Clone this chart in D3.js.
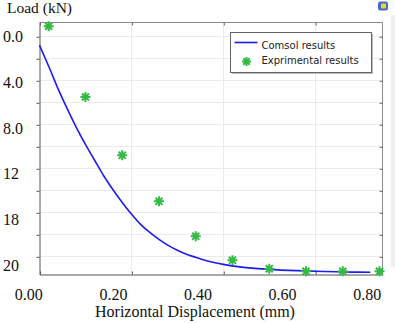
<!DOCTYPE html>
<html>
<head>
<meta charset="utf-8">
<script src="https://cdn.jsdelivr.net/npm/d3@7/dist/d3.min.js"></script>
<style>
  body { margin: 0; background: #fff; }
  svg { display: block; }
</style>
</head>
<body>
<svg id="chart"></svg>
<script>
// Comsol curve (displacement in mm, load in kN)
const comsolDisp = [0, 0.02, 0.04, 0.06, 0.08, 0.10, 0.12, 0.14, 0.16, 0.18, 0.20, 0.22, 0.24, 0.26, 0.28, 0.30, 0.32, 0.34, 0.36, 0.40, 0.44, 0.50, 0.56, 0.62, 0.68, 0.72];
const comsolLoad = [0.82, 2.73, 4.73, 6.55, 8.27, 9.82, 11.27, 12.7, 13.95, 15.1, 16.15, 17.09, 17.82, 18.45, 19.0, 19.45, 19.82, 20.09, 20.36, 20.73, 20.98, 21.18, 21.3, 21.38, 21.43, 21.45];

// Experimental points
const expDisp = [0.02, 0.10, 0.18, 0.26, 0.34, 0.42, 0.50, 0.58, 0.66, 0.74];
const expLoad = [-0.91, 5.52, 10.82, 15.0, 18.18, 20.36, 21.12, 21.36, 21.36, 21.36];

// Tick labels as printed on the figure
const xTickLabels = ["0.00", "0.20", "0.40", "0.60", "0.80"];
const yTickLabels = ["0.0", "4.0", "8.0", "12", "18", "20"];

const seriesNames = ["Comsol results", "Exprimental results"];

const width = 395;
const height = 323;
const plotLeft = 39.5, plotRight = 382.5, plotTop = 22.5, plotBottom = 274.5;

const lineColor = "#1c1cf5";
const starColor = "#33b944";

const svg = d3.select("#chart")
  .attr("width", width)
  .attr("height", height);

// Scales for the data
const x = d3.scaleLinear().domain([0, 0.7465]).range([plotLeft, plotRight]);
const y = d3.scaleLinear().domain([-1.25, 21.65]).range([plotTop, plotBottom]);

// Scales for the printed labels (they sit a bit off the grid in the figure)
const xLab = d3.scaleLinear().domain([0, 0.8]).range([28.3, 366.7]);
const yLab = d3.scaleLinear().domain([0, 20]).range([36.7, 265]);

const xGrid = [0, 0.2, 0.4, 0.6];
const yGrid = d3.range(0, 21, 2);

// grid lines
svg.append("g")
  .selectAll("line")
  .data(yGrid)
  .enter().append("line")
  .attr("x1", plotLeft).attr("x2", plotRight)
  .attr("y1", d => Math.round(y(d)) + 0.5)
  .attr("y2", d => Math.round(y(d)) + 0.5)
  .attr("stroke", "#ebebeb");

svg.append("g")
  .selectAll("line")
  .data(xGrid.slice(1))
  .enter().append("line")
  .attr("y1", plotTop).attr("y2", plotBottom)
  .attr("x1", d => Math.round(x(d)) + 0.5)
  .attr("x2", d => Math.round(x(d)) + 0.5)
  .attr("stroke", "#ebebeb");

// frame: top and right
svg.append("path")
  .attr("d", `M${plotLeft},${plotTop}H${plotRight}V${plotBottom}`)
  .attr("fill", "none")
  .attr("stroke", "#8a8a8a");

// left axis
svg.append("g")
  .attr("transform", `translate(${plotLeft},0)`)
  .call(d3.axisLeft(y).tickValues(yGrid).tickSize(3).tickSizeOuter(0).tickFormat(""))
  .call(g => g.selectAll("path,line").attr("stroke", "#555"))
  .call(g => g.selectAll(".tick line").attr("transform", "translate(0,0.5)"));

// right ticks (inward)
svg.append("g")
  .attr("transform", `translate(${plotRight},0)`)
  .call(d3.axisLeft(y).tickValues(yGrid).tickSize(3).tickSizeOuter(0).tickFormat(""))
  .call(g => g.select(".domain").remove())
  .call(g => g.selectAll(".tick line").attr("stroke", "#666").attr("transform", "translate(0,0.5)"));

// top ticks (inward)
svg.append("g")
  .attr("transform", `translate(0,${plotTop})`)
  .call(d3.axisBottom(x).tickValues(xGrid).tickSize(3).tickSizeOuter(0).tickFormat(""))
  .call(g => g.select(".domain").remove())
  .call(g => g.selectAll(".tick line").attr("stroke", "#666").attr("transform", "translate(0.5,0)"));

// bottom axis (ticks inward)
svg.append("g")
  .attr("transform", `translate(0,${plotBottom})`)
  .call(d3.axisTop(x).tickValues(xGrid).tickSize(3).tickSizeOuter(0).tickFormat(""))
  .call(g => g.selectAll("path,line").attr("stroke", "#555"))
  .call(g => g.selectAll(".tick line").attr("transform", "translate(0.5,0)"));

// printed tick labels
svg.append("g")
  .attr("transform", `translate(0,299.5)`)
  .call(d3.axisTop(xLab).tickValues([0, 0.2, 0.4, 0.6, 0.8]).tickSize(0).tickPadding(0)
    .tickFormat((d, i) => xTickLabels[i]))
  .call(g => g.select(".domain").remove())
  .call(g => g.selectAll("text")
    .attr("font-family", "'Liberation Serif', serif")
    .attr("font-size", 16)
    .attr("fill", "#111")
    .attr("dy", 0));

svg.append("g")
  .attr("transform", `translate(3,0)`)
  .call(d3.axisRight(yLab).tickValues([0, 4, 8, 12, 16, 20]).tickSize(0).tickPadding(0)
    .tickFormat((d, i) => yTickLabels[i]))
  .call(g => g.select(".domain").remove())
  .call(g => g.selectAll("text")
    .attr("font-family", "'Liberation Serif', serif")
    .attr("font-size", 16)
    .attr("fill", "#111"));

// axis titles
svg.append("text")
  .attr("x", 7).attr("y", 12.5)
  .attr("font-family", "'Liberation Serif', serif")
  .attr("font-size", 15.5)
  .attr("fill", "#111")
  .text("Load (kN)");

svg.append("text")
  .attr("x", 95).attr("y", 317)
  .attr("font-family", "'Liberation Serif', serif")
  .attr("font-size", 16)
  .attr("fill", "#111")
  .text("Horizontal Displacement (mm)");

// Comsol curve
const curveData = comsolDisp.map((d, i) => [d, comsolLoad[i]]);
svg.append("path")
  .datum(curveData)
  .attr("fill", "none")
  .attr("stroke", lineColor)
  .attr("stroke-width", 1.6)
  .attr("d", d3.line().x(d => x(d[0])).y(d => y(d[1])).curve(d3.curveMonotoneX));

// asterisk marker
const star = r => {
  const a = r * Math.SQRT1_2;
  return `M0,${-r}V${r}M${-r},0H${r}M${-a},${-a}L${a},${a}M${-a},${a}L${a},${-a}`;
};

svg.append("g")
  .selectAll("path")
  .data(expDisp.map((d, i) => [d, expLoad[i]]))
  .enter().append("path")
  .attr("transform", d => `translate(${x(d[0])},${y(d[1])})`)
  .attr("d", star(5))
  .attr("stroke", starColor)
  .attr("stroke-width", 2)
  .attr("fill", "none");

// legend
const lg = svg.append("g").attr("transform", "translate(230.5,32.5)");
lg.append("rect")
  .attr("x", 1.5).attr("y", 1.5).attr("width", 141).attr("height", 40)
  .attr("fill", "#bbb");
lg.append("rect")
  .attr("width", 141).attr("height", 40)
  .attr("fill", "#fff").attr("stroke", "#666");
lg.append("line")
  .attr("x1", 4).attr("x2", 27).attr("y1", 10).attr("y2", 10)
  .attr("stroke", lineColor).attr("stroke-width", 1.6);
lg.append("path")
  .attr("transform", "translate(16,29)")
  .attr("d", star(4.5))
  .attr("stroke", starColor).attr("stroke-width", 2);
lg.selectAll("text")
  .data(seriesNames)
  .enter().append("text")
  .attr("x", 31)
  .attr("y", (d, i) => 16.5 + i * 15)
  .attr("font-family", "'DejaVu Sans', sans-serif")
  .attr("font-size", 10)
  .attr("fill", "#222")
  .text(d => d);

// window chrome at the right edge
svg.append("rect")
  .attr("x", 391).attr("y", 15).attr("width", 4).attr("height", 252)
  .attr("fill", "#efefef");
svg.append("rect")
  .attr("x", 378).attr("y", 1.5).attr("width", 10).attr("height", 9).attr("rx", 2.5)
  .attr("fill", "#3f6fc8");
svg.append("rect")
  .attr("x", 381).attr("y", 3.5).attr("width", 5).attr("height", 5).attr("rx", 1)
  .attr("fill", "#f2d43a");
</script>
</body>
</html>
